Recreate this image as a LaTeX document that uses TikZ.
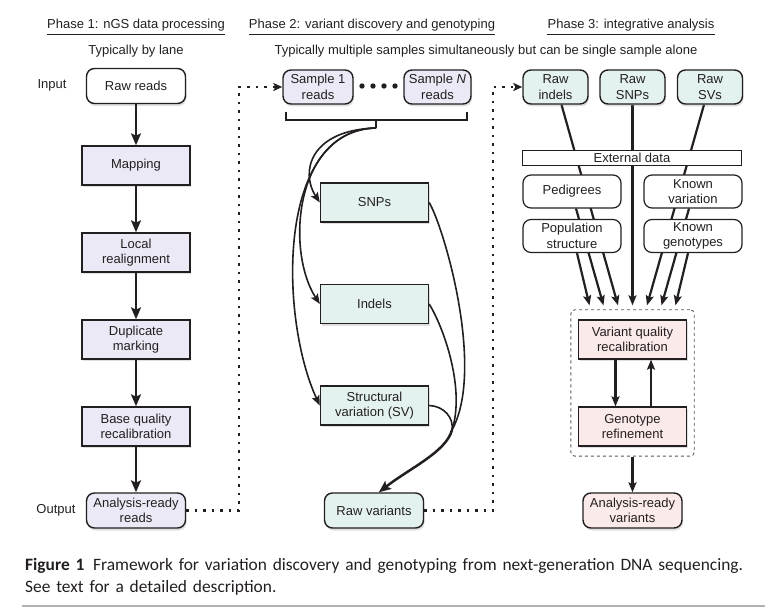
\documentclass[tikz,border=0pt]{standalone}
\usepackage{fontspec}
\setmainfont{Liberation Sans}
\newfontfamily\capfont{Carlito}
\usepackage{tikz}
\usetikzlibrary{arrows.meta,shadows,fit,backgrounds}
\definecolor{ink}{HTML}{231F20}
\definecolor{lav}{HTML}{ECE9F6}
\definecolor{aqua}{HTML}{E4F2EF}
\definecolor{blush}{HTML}{FBEAEA}
\tikzstyle{arrow} = [-{Stealth[length=12pt,width=10pt,inset=2.5pt]}, line width=2.7pt, draw=ink]
\tikzstyle{midarrow} = [-{Stealth[length=10pt,width=8pt,inset=2pt]}, line width=2.2pt, draw=ink]
\tikzstyle{curve} = [line width=1.6pt, draw=ink]
\tikzstyle{dotline} = [draw=ink, line width=2.3pt, dash pattern=on 2.5pt off 6pt, -{Stealth[length=9pt,width=8pt,inset=2pt]}]
\tikzstyle{procbox} = [draw=ink, line width=1.4pt, minimum width=108pt, minimum height=39pt, inner ysep=2pt, align=center, drop shadow={shadow xshift=1pt, shadow yshift=-2.5pt, opacity=.25}]
\tikzstyle{rbox} = [procbox, rounded corners=8pt, minimum width=99pt, minimum height=35pt]
\tikzstyle{datbox} = [draw=ink, line width=1.2pt, fill=white, rounded corners=8pt, minimum width=98pt, minimum height=33pt, inner ysep=1pt, align=center]
\tikzstyle{phase} = [anchor=base, inner xsep=0pt]

\begin{document}
\begin{tikzpicture}[x=1pt, y=-1pt, text=ink, font=\fontsize{13}{15.5}\selectfont]
    \useasboundingbox (0,0) rectangle (780,612);

    % headings
    \node[phase] (ph1) at (136,29) {Phase 1: nGS data processing};
    \node[phase] (ph2) at (372,29) {Phase 2: variant discovery and genotyping};
    \node[phase] (ph3) at (631,29) {Phase 3: integrative analysis};
    \foreach \p in {ph1,ph2,ph3}
        \draw[ink, line width=0.9pt] ([yshift=-5pt]\p.base west) -- ([yshift=-5pt]\p.base east);
    \node[anchor=base] (lane) at (136,55) {Typically by lane};
    \node[anchor=base] (multi) at (486,55) {Typically multiple samples simultaneously but can be single sample alone};

    % phase 1
    \node (in) at (52,85) {Input};
    \node (out) at (56,510) {Output};
    \node[rbox, fill=white] (raw) at (136,86) {Raw reads};
    \node[procbox, fill=lav] (map) at (136,165.5) {Mapping};
    \node[procbox, fill=lav] (realign) at (136,252.5) {Local\\realignment};
    \node[procbox, fill=lav] (dup) at (136,339.5) {Duplicate\\marking};
    \node[procbox, fill=lav] (bqr) at (136,426.5) {Base quality\\recalibration};
    \node[rbox, fill=lav] (ready) at (136,510.5) {Analysis-ready\\reads};

    \draw[arrow] (raw) -- (map);
    \draw[arrow] (map) -- (realign);
    \draw[arrow] (realign) -- (dup);
    \draw[arrow] (dup) -- (bqr);
    \draw[arrow] (bqr) -- (ready);

    % phase 2
    \node[rbox, fill=lav, minimum width=70pt, minimum height=34pt] (s1) at (318,87) {Sample 1\\reads};
    \node[rbox, fill=lav, minimum width=67pt, minimum height=34pt] (sn) at (437.5,87) {Sample \textit{N}\\reads};
    \foreach \x in {362,373,384,395}
        \fill[ink] (\x,86) circle (2.7pt);
    \draw[ink, line width=1.3pt] (286,112) |- (467,120) -- (467,112);
    \coordinate (split) at (376,128);
    \draw[ink, line width=1.3pt] (376,120) -- (split);

    \node[procbox, fill=aqua] (snp) at (374.5,202.5) {SNPs};
    \node[procbox, fill=aqua] (indel) at (374.5,304) {Indels};
    \node[procbox, fill=aqua] (sv) at (374.5,405.5) {Structural\\variation (SV)};
    \node[rbox, fill=aqua] (rawvar) at (374,510.5) {Raw variants};

    \draw[dotline] (ready.east) -- ++(53,0) |- (s1.west);

    \draw[curve, -{Stealth[length=10pt,width=8pt,inset=2pt]}] (split) .. controls (310,130) and (300,172) .. (snp.west);
    \draw[curve, -{Stealth[length=10pt,width=8pt,inset=2pt]}] (split) .. controls (295,130) and (285,250) .. (indel.west);
    \draw[curve, -{Stealth[length=10pt,width=8pt,inset=2pt]}] (split) .. controls (275,130) and (280,320) .. (sv.west);
    \coordinate (merge) at (452,430);
    \draw[curve] (snp.east) .. controls (445,230) and (485,370) .. (merge);
    \draw[curve] (indel.east) .. controls (445,330) and (465,390) .. (merge);
    \draw[curve] (sv.east) .. controls (444,406) and (454,418) .. (merge);
    \draw[arrow, line width=2.5pt] (merge) .. controls (446,452) and (410,468) .. (rawvar.75);

    % phase 3
    \node[rbox, fill=aqua, minimum width=65pt, minimum height=34pt] (rind) at (555.5,87) {Raw\\indels};
    \node[rbox, fill=aqua, minimum width=65pt, minimum height=34pt] (rsnp) at (632.5,87) {Raw\\SNPs};
    \node[rbox, fill=aqua, minimum width=65pt, minimum height=34pt] (rsv) at (710,87) {Raw\\SVs};
    \draw[dotline] (rawvar.east) -- ++(69,0) |- (rind.west);

    \node[draw=ink, line width=0.8pt, fill=white, minimum width=219pt, minimum height=15pt, inner sep=0pt] (ext) at (632,157.5) {External data};
    \node[datbox] (ped) at (572,191.5) {Pedigrees};
    \node[datbox] (kvar) at (693,191.5) {Known\\variation};
    \node[datbox] (pop) at (572,236) {Population\\structure};
    \node[datbox] (kgen) at (693,236) {Known\\genotypes};

    \node[procbox, fill=blush] (vqr) at (632.5,339.5) {Variant quality\\recalibration};
    \node[procbox, fill=blush] (gref) at (632.5,426.5) {Genotype\\refinement};
    \node[draw=ink!75, line width=0.9pt, dashed, rounded corners=4pt, fit=(vqr)(gref), inner xsep=7pt, inner ysep=9.5pt] (loop) {};
    \node[rbox, fill=blush] (arv) at (632.5,510.5) {Analysis-ready\\variants};

    \begin{pgfonlayer}{background}
        \draw[midarrow] (pop.south) ++(5,0) -- ([xshift=-43pt,yshift=4pt]loop.north);
        \draw[midarrow] ([xshift=4pt]ped.south) -- ([xshift=-29pt,yshift=4pt]loop.north);
        \draw[midarrow] ([xshift=6pt]rind.south) -- ([xshift=-14.5pt,yshift=4pt]loop.north);
        \draw[midarrow] (rsnp.south) -- ([yshift=4pt]loop.north);
        \draw[midarrow] ([xshift=-6pt]rsv.south) -- ([xshift=14.5pt,yshift=4pt]loop.north);
        \draw[midarrow] ([xshift=-4pt]kvar.south) -- ([xshift=29pt,yshift=4pt]loop.north);
        \draw[midarrow] ([xshift=-5pt]kgen.south) -- ([xshift=43pt,yshift=4pt]loop.north);
    \end{pgfonlayer}

    \draw[midarrow] ([xshift=-17pt]vqr.south) -- ([xshift=-17pt]gref.north);
    \draw[midarrow] ([xshift=18.5pt]gref.north) -- ([xshift=18.5pt]vqr.south);
    \draw[midarrow, line width=2.6pt] (loop.south) -- (arv.north);

    % caption
    \node[anchor=north west, inner sep=0pt, text width=745pt, align=left, font=\capfont\fontsize{17.4}{22}\selectfont] (cap) at (25,558) {\textbf{Figure 1}\enspace Framework for variation discovery and genotyping from next-generation DNA sequencing.\\See text for a detailed description.};
    \draw[gray!60, line width=1.5pt] (22,606) -- (765,606);
\end{tikzpicture}
\end{document}
